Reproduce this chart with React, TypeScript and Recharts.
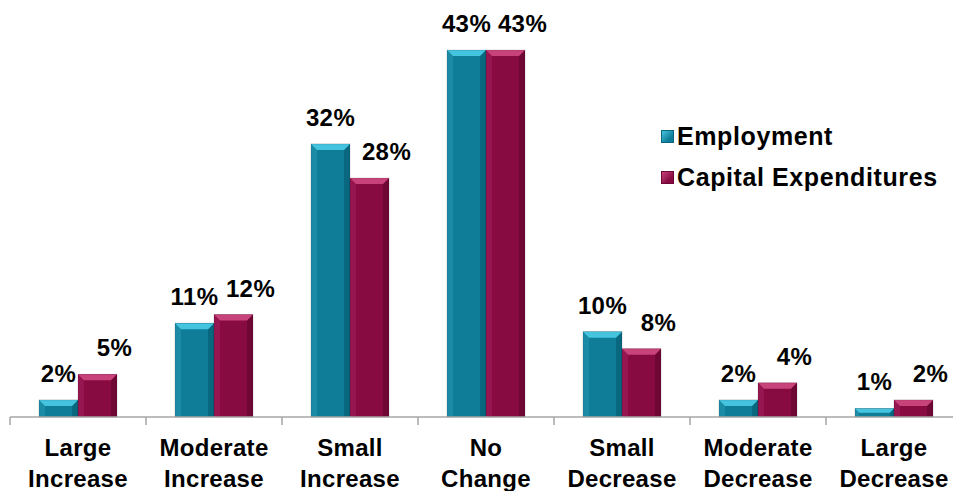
import { BarChart, Bar, XAxis, YAxis, LabelList, Legend } from 'recharts';

const CATEGORIES = [
  'Large Increase',
  'Moderate Increase',
  'Small Increase',
  'No Change',
  'Small Decrease',
  'Moderate Decrease',
  'Large Decrease',
];
const EMPLOYMENT = [2, 11, 32, 43, 10, 2, 1];
const CAPEX = [5, 12, 28, 43, 8, 4, 2];

const SERIES = [
  { key: 'employment', name: 'Employment', main: '#0f7d98', light: '#45c4e0', left: '#1b8ba6', right: '#09677f', labelDx: 0 },
  { key: 'capex', name: 'Capital Expenditures', main: '#870a41', light: '#c9437b', left: '#951650', right: '#6e0734', labelDx: 17 },
];

const FONT = '"Liberation Sans", Arial, sans-serif';
const CHART_W = 972;
const LEFT = 10;
const RIGHT = 10;
const HALF_BAND = (CHART_W - LEFT - RIGHT) / CATEGORIES.length / 2;

const data = CATEGORIES.map((c, i) => ({
  category: c,
  employment: EMPLOYMENT[i],
  capex: CAPEX[i],
}));

function bevelBar(s: (typeof SERIES)[number]) {
  return (props: any) => {
    const { x, y, width: w, height: h } = props;
    if (!h || h <= 0) return <g />;
    const b = Math.min(6, h / 2);
    return (
      <g>
        <rect x={x} y={y} width={w} height={h} fill={s.main} />
        <polygon points={`${x},${y} ${x + b},${y + b} ${x + b},${y + h} ${x},${y + h}`} fill={s.left} />
        <polygon points={`${x + w},${y} ${x + w - b},${y + b} ${x + w - b},${y + h} ${x + w},${y + h}`} fill={s.right} />
        <polygon points={`${x},${y} ${x + w},${y} ${x + w - b},${y + b} ${x + b},${y + b}`} fill={s.light} />
        <rect x={x} y={y} width={w} height={h} fill="none" stroke="rgba(0,0,0,0.18)" strokeWidth={0.8} />
      </g>
    );
  };
}

function valueLabel(dx: number) {
  return (props: any) => {
    const { x, y, width, value } = props;
    return (
      <text
        x={x + width / 2 + dx}
        y={y - 18}
        textAnchor="middle"
        fontFamily={FONT}
        fontWeight="bold"
        fontSize={24}
        letterSpacing={0.4}
        fill="#000"
      >
        {value}%
      </text>
    );
  };
}

function CategoryTick(props: any) {
  const { x, y, payload } = props;
  const words = String(payload.value).split(' ');
  return (
    <g>
      <line x1={x - HALF_BAND} y1={y} x2={x - HALF_BAND} y2={y + 8} stroke="#a6a6a6" strokeWidth={1.5} />
      <text textAnchor="middle" fontFamily={FONT} fontWeight="bold" fontSize={24} letterSpacing={0.3} fill="#000">
        <tspan x={x} y={y + 39}>{words[0]}</tspan>
        <tspan x={x} y={y + 70}>{words[1]}</tspan>
      </text>
    </g>
  );
}

function LegendContent() {
  return (
    <div style={{ fontFamily: FONT, fontWeight: 'bold', fontSize: 25, letterSpacing: 0.6, color: '#000', textAlign: 'left' }}>
      {SERIES.map((s) => (
        <div key={s.key} style={{ display: 'flex', alignItems: 'center', height: 41 }}>
          <span
            style={{
              display: 'inline-block',
              width: 13,
              height: 13,
              marginRight: 3,
              background: `linear-gradient(135deg, ${s.light} 0%, ${s.main} 70%)`,
              border: `1px solid ${s.right}`,
              boxSizing: 'border-box',
            }}
          />
          <span style={{ whiteSpace: 'nowrap' }}>{s.name}</span>
        </div>
      ))}
    </div>
  );
}

export default function App() {
  return (
    <div style={{ position: 'absolute', left: 0, top: 0, width: 953, height: 491, overflow: 'hidden', background: '#fff' }}>
      <BarChart
        width={CHART_W}
        height={491}
        data={data}
        margin={{ top: 33, right: RIGHT, bottom: 0, left: LEFT }}
        barSize={39}
        barGap={0}
      >
        <XAxis
          dataKey="category"
          height={74}
          axisLine={{ stroke: '#a6a6a6', strokeWidth: 1.5 }}
          tickLine={false}
          tickSize={0}
          tickMargin={0}
          interval={0}
          tick={<CategoryTick />}
        />
        <YAxis hide domain={[0, 45]} />
        <Legend
          layout="horizontal"
          verticalAlign="middle"
          align="center"
          content={<LegendContent />}
          wrapperStyle={{ top: 116, left: 661, width: 300 }}
        />
        {SERIES.map((s) => (
          <Bar key={s.key} dataKey={s.key} name={s.name} isAnimationActive={false} shape={bevelBar(s)}>
            <LabelList dataKey={s.key} content={valueLabel(s.labelDx)} />
          </Bar>
        ))}
      </BarChart>
    </div>
  );
}
